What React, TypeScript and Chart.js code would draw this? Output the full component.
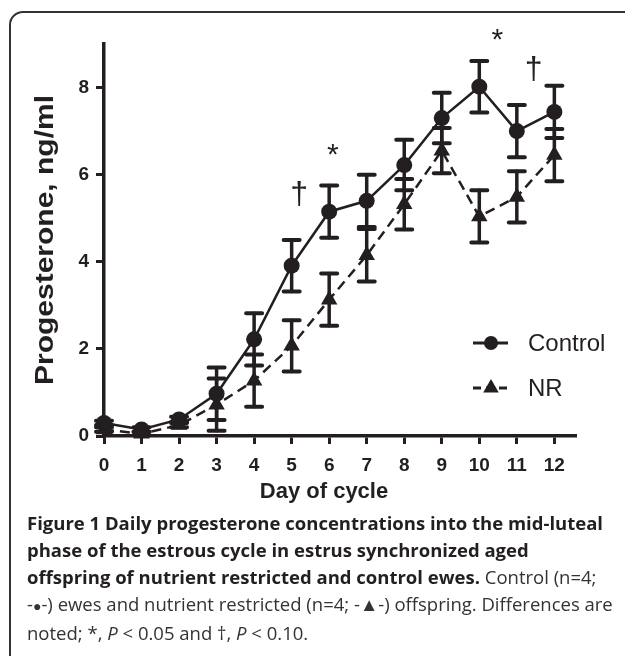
import React, { useEffect, useRef } from "react";
import { Chart, registerables } from "chart.js";

Chart.register(...registerables);

const days = [0, 1, 2, 3, 4, 5, 6, 7, 8, 9, 10, 11, 12];
const controlMean = [0.3, 0.15, 0.38, 0.97, 2.22, 3.91, 5.15, 5.4, 6.22, 7.3, 8.02, 7.0, 7.44];
const controlErr = [0.05, 0.05, 0.06, 0.6, 0.6, 0.59, 0.6, 0.6, 0.58, 0.58, 0.59, 0.6, 0.6];
const nrMean = [0.15, 0.05, 0.25, 0.72, 1.27, 2.07, 3.13, 4.15, 5.32, 6.55, 5.04, 5.49, 6.45];
const nrErr = [0.05, 0.04, 0.05, 0.6, 0.6, 0.59, 0.6, 0.6, 0.58, 0.52, 0.6, 0.59, 0.6];
const yTicks = [0, 2, 4, 6, 8];
const seriesNames = ["Control", "NR"];
const markText = ["\u2020", "*", "*", "\u2020"];
const markX = [5.2, 6.1, 10.48, 11.45];
const markY = [5.53, 6.44, 9.08, 8.4];
const xTitle = "Day of cycle";
const yTitle = "Progesterone, ng/ml";

const INK = "#231f20";
const AXIS_FONT = '"Liberation Sans", Arial, Helvetica, sans-serif';

function drawMarker(ctx: CanvasRenderingContext2D, kind: string, cx: number, cy: number, r: number) {
  ctx.beginPath();
  if (kind === "circle") {
    ctx.arc(cx, cy, r, 0, Math.PI * 2);
  } else {
    const h = r * 1.5;
    const w = r * Math.sqrt(3);
    ctx.moveTo(cx, cy - r);
    ctx.lineTo(cx + w / 2, cy - r + h);
    ctx.lineTo(cx - w / 2, cy - r + h);
    ctx.closePath();
  }
  ctx.fill();
}

const errorBarsPlugin = {
  id: "errorBars",
  beforeDatasetsDraw(chart: any) {
    const { ctx } = chart;
    const x = chart.scales.x;
    const y = chart.scales.y;
    ctx.save();
    ctx.strokeStyle = INK;
    ctx.lineCap = "round";
    chart.data.datasets.forEach((ds: any) => {
      const errs: number[] = ds.errs;
      ds.data.forEach((p: any, i: number) => {
        const px = x.getPixelForValue(p.x);
        const top = y.getPixelForValue(p.y + errs[i]);
        const bot = y.getPixelForValue(p.y - errs[i]);
        ctx.lineWidth = 3.5;
        ctx.beginPath();
        ctx.moveTo(px, top);
        ctx.lineTo(px, bot);
        ctx.stroke();
        ctx.lineWidth = 4;
        ctx.beginPath();
        ctx.moveTo(px - 8, top);
        ctx.lineTo(px + 8, top);
        ctx.moveTo(px - 8, bot);
        ctx.lineTo(px + 8, bot);
        ctx.stroke();
      });
    });
    ctx.restore();
  },
};

const decorPlugin = {
  id: "decor",
  afterDraw(chart: any) {
    const { ctx, chartArea } = chart;
    const x = chart.scales.x;
    const y = chart.scales.y;
    ctx.save();
    ctx.fillStyle = INK;
    // significance marks
    ctx.textAlign = "center";
    ctx.textBaseline = "middle";
    markText.forEach((t, i) => {
      ctx.font = t === "*" ? `30px ${AXIS_FONT}` : `32px ${AXIS_FONT}`;
      ctx.fillText(t, x.getPixelForValue(markX[i]), y.getPixelForValue(markY[i]));
    });
    // y title
    ctx.save();
    ctx.translate(43, (chartArea.top + chartArea.bottom) / 2);
    ctx.rotate(-Math.PI / 2);
    ctx.scale(1.2, 1);
    ctx.font = `bold 25px ${AXIS_FONT}`;
    ctx.textAlign = "center";
    ctx.textBaseline = "alphabetic";
    ctx.fillText(yTitle, 0, 0);
    ctx.restore();
    // x title
    ctx.font = `bold 22px ${AXIS_FONT}`;
    ctx.textAlign = "center";
    ctx.textBaseline = "alphabetic";
    ctx.fillText(xTitle, 314, 485);
    // legend
    const lx0 = chartArea.right - 102;
    const rows = [
      { y: chartArea.bottom - 93, kind: "circle", dash: [] as number[] },
      { y: chartArea.bottom - 48, kind: "triangle", dash: [8, 5] },
    ];
    rows.forEach((row, i) => {
      ctx.strokeStyle = INK;
      ctx.lineWidth = 3;
      ctx.setLineDash(row.dash);
      ctx.beginPath();
      ctx.moveTo(lx0, row.y);
      ctx.lineTo(lx0 + 35, row.y);
      ctx.stroke();
      ctx.setLineDash([]);
      drawMarker(ctx, row.kind, lx0 + 18, row.y, row.kind === "circle" ? 7 : 9);
      ctx.font = `24px ${AXIS_FONT}`;
      ctx.textAlign = "left";
      ctx.textBaseline = "middle";
      ctx.fillText(seriesNames[i], lx0 + 55, row.y + 1);
    });
    ctx.restore();
  },
};

export default function App() {
  const ref = useRef<HTMLCanvasElement>(null);
  useEffect(() => {
    document.body.style.overflow = "hidden";
    if (!ref.current) return;
    const chart = new Chart(ref.current, {
      type: "line",
      data: {
        datasets: [
          {
            label: seriesNames[0],
            data: days.map((d, i) => ({ x: d, y: controlMean[i] })),
            errs: controlErr,
            borderColor: INK,
            backgroundColor: INK,
            borderWidth: 2.5,
            pointStyle: "circle",
            pointRadius: 8,
            pointBorderWidth: 0,
            pointBackgroundColor: INK,
            clip: false,
            order: 1,
          } as any,
          {
            label: seriesNames[1],
            data: days.map((d, i) => ({ x: d, y: nrMean[i] })),
            errs: nrErr,
            borderColor: INK,
            backgroundColor: INK,
            borderWidth: 2.5,
            borderDash: [10, 6],
            pointStyle: "triangle",
            pointRadius: 9.5,
            pointBorderWidth: 0,
            pointBackgroundColor: INK,
            clip: false,
            order: 2,
          } as any,
        ],
      },
      options: {
        animation: false,
        responsive: false,
        maintainAspectRatio: false,
        layout: { padding: { top: 31, right: 35, left: 0, bottom: 0 } },
        plugins: { legend: { display: false }, tooltip: { enabled: false } },
        scales: {
          x: {
            type: "linear",
            min: 0,
            max: 12.55,
            afterBuildTicks: (s: any) => {
              s.ticks = days.map((v) => ({ value: v }));
            },
            afterFit: (s: any) => {
              s.height = 77;
            },
            grid: { display: true, drawOnChartArea: false, drawTicks: true, tickLength: 8, lineWidth: 3, color: INK },
            border: { display: true, width: 3.5, color: INK },
            ticks: { color: INK, padding: 10, font: { family: AXIS_FONT, size: 19, weight: "bold" } },
          },
          y: {
            type: "linear",
            min: 0,
            max: 9.0,
            afterBuildTicks: (s: any) => {
              s.ticks = yTicks.map((v) => ({ value: v }));
            },
            afterFit: (s: any) => {
              s.width = 94;
            },
            grid: { display: true, drawOnChartArea: false, drawTicks: true, tickLength: 8, lineWidth: 3, color: INK },
            border: { display: true, width: 3.5, color: INK },
            ticks: { color: INK, padding: 7, font: { family: AXIS_FONT, size: 19, weight: "bold" } },
          },
        },
      },
      plugins: [errorBarsPlugin, decorPlugin],
    } as any);
    return () => chart.destroy();
  }, []);

  const bold = { fontWeight: 700, color: "#231f20" } as React.CSSProperties;
  return (
    <div style={{ height: 0 }}>
      <div
        style={{
          position: "fixed",
          left: 9,
          top: 11,
          width: 660,
          height: 680,
          border: "2px solid #333",
          borderTopLeftRadius: 14,
          boxSizing: "border-box",
        }}
      />
      <canvas
        ref={ref}
        width={600}
        height={500}
        style={{ position: "fixed", left: 10, top: 13, width: 600, height: 500 }}
      />
      <div
        style={{
          position: "fixed",
          left: 27,
          top: 509,
          fontFamily: '"Open Sans", "Noto Sans", sans-serif',
          fontSize: 18.5,
          lineHeight: "27px",
          color: "#333",
          whiteSpace: "nowrap",
        }}
      >
        <span style={bold}>Figure 1 Daily progesterone concentrations into the mid-luteal</span>
        <br />
        <span style={bold}>phase of the estrous cycle in estrus synchronized aged</span>
        <br />
        <span style={bold}>offspring of nutrient restricted and control ewes.</span> Control (n=4;
        <br />
        -<span style={{ fontSize: 14 }}>{"\u25CF"}</span>-) ewes and nutrient restricted (n=4; -{"\u25B2"}-) offspring. Differences are
        <br />
        noted; *, <i>P</i> &lt; 0.05 and {"\u2020"}, <i>P</i> &lt; 0.10.
      </div>
    </div>
  );
}
